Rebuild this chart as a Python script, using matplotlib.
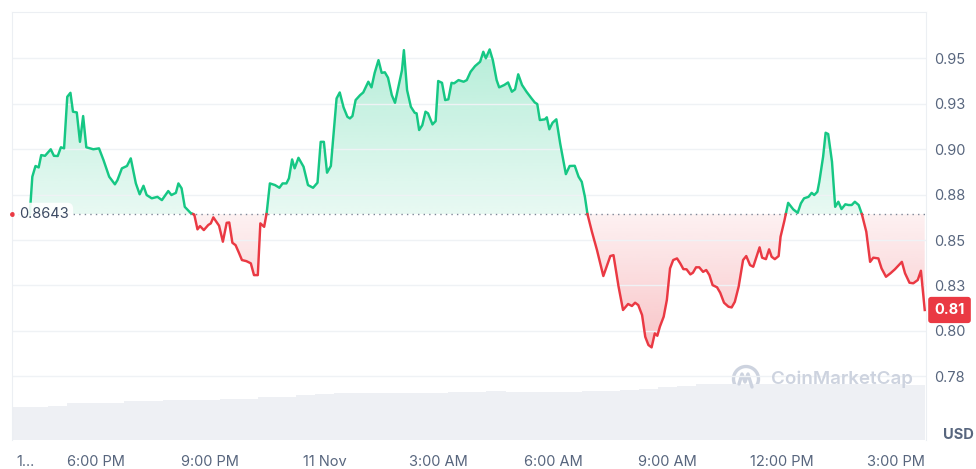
import numpy as np
import matplotlib
matplotlib.use("Agg")
import matplotlib.pyplot as plt
from matplotlib.path import Path
from matplotlib.patches import Circle
from matplotlib.lines import Line2D

plt.rcParams['font.family'] = ['Inter', 'DejaVu Sans']

# price, minutes after 10 Nov 6:00 PM
minutes = [-104, -100, -95, -90, -86, -80, -71, -66, -60, -55,
           -50, -45, -40, -36, -30, -25, -20, -15, -4, 5,
           12, 21, 30, 34, 41, 49, 55, 63, 69, 75,
           80, 88, 97, 104, 114, 119, 126, 130, 135, 140,
           149, 155, 160, 164, 170, 177, 181, 185, 194, 200,
           206, 210, 215, 220, 225, 230, 237, 244, 249, 255,
           259, 265, 269, 274, 282, 289, 294, 300, 304, 309,
           313, 319, 327, 334, 342, 349, 354, 359, 364, 370,
           379, 384, 390, 396, 400, 404, 409, 416, 421, 429,
           434, 439, 445, 450, 455, 460, 466, 471, 477, 482,
           485, 490, 496, 502, 505, 509, 514, 519, 523, 530,
           535, 539, 545, 550, 555, 560, 564, 571, 579, 584,
           590, 597, 605, 610, 614, 620, 625, 631, 635, 643,
           649, 655, 660, 665, 671, 678, 686, 691, 695, 699,
           707, 710, 714, 719, 725, 731, 740, 746, 754, 760,
           765, 770, 774, 781, 789, 799, 810, 815, 823, 830,
           838, 844, 849, 854, 860, 865, 870, 875, 880, 884,
           888, 894, 899, 904, 909, 915, 920, 925, 930, 936,
           940, 945, 950, 956, 961, 966, 971, 978, 983, 989,
           996, 1001, 1006, 1012, 1019, 1024, 1030, 1035, 1041, 1045,
           1049, 1055, 1060, 1064, 1069, 1075, 1078, 1084, 1090, 1098,
           1105, 1110, 1115, 1122, 1127, 1131, 1136, 1139, 1145, 1149,
           1153, 1159, 1164, 1169, 1174, 1180, 1185, 1190, 1195, 1201,
           1206, 1213, 1219, 1224, 1232, 1237, 1244, 1251, 1258, 1269,
           1274, 1281, 1287, 1294, 1299, 1305]
price = [0.8643, 0.8849, 0.8908, 0.8900, 0.8968, 0.8964, 0.9000, 0.8964, 0.8963, 0.9011,
         0.9005, 0.9289, 0.9311, 0.9207, 0.9203, 0.9041, 0.9183, 0.9011, 0.9000, 0.9005,
         0.8941, 0.8849, 0.8807, 0.8830, 0.8895, 0.8908, 0.8950, 0.8812, 0.8752, 0.8799,
         0.8748, 0.8730, 0.8738, 0.8720, 0.8770, 0.8748, 0.8760, 0.8812, 0.8785, 0.8683,
         0.8650, 0.8640, 0.8559, 0.8577, 0.8555, 0.8583, 0.8592, 0.8625, 0.8579, 0.8491,
         0.8595, 0.8597, 0.8485, 0.8472, 0.8432, 0.8390, 0.8384, 0.8372, 0.8307, 0.8307,
         0.8592, 0.8573, 0.8650, 0.8812, 0.8803, 0.8788, 0.8812, 0.8812, 0.8840, 0.8944,
         0.8895, 0.8953, 0.8904, 0.8803, 0.8788, 0.8816, 0.9041, 0.9041, 0.8871, 0.8908,
         0.9280, 0.9313, 0.9231, 0.9179, 0.9170, 0.9183, 0.9271, 0.9298, 0.9313, 0.9372,
         0.9341, 0.9421, 0.9491, 0.9421, 0.9424, 0.9394, 0.9298, 0.9256, 0.9354, 0.9436,
         0.9546, 0.9326, 0.9234, 0.9201, 0.9198, 0.9106, 0.9133, 0.9207, 0.9198, 0.9137,
         0.9155, 0.9376, 0.9366, 0.9271, 0.9275, 0.9366, 0.9363, 0.9381, 0.9372, 0.9381,
         0.9427, 0.9458, 0.9482, 0.9537, 0.9501, 0.9550, 0.9491, 0.9381, 0.9341, 0.9354,
         0.9368, 0.9317, 0.9330, 0.9413, 0.9354, 0.9317, 0.9280, 0.9258, 0.9249, 0.9161,
         0.9165, 0.9176, 0.9110, 0.9146, 0.9165, 0.9033, 0.8863, 0.8908, 0.8909, 0.8849,
         0.8821, 0.8738, 0.8643, 0.8546, 0.8445, 0.8302, 0.8412, 0.8417, 0.8243, 0.8115,
         0.8148, 0.8137, 0.8155, 0.8142, 0.8087, 0.7967, 0.7922, 0.7909, 0.7986, 0.7973,
         0.8023, 0.8078, 0.8170, 0.8344, 0.8390, 0.8399, 0.8372, 0.8340, 0.8339, 0.8311,
         0.8320, 0.8350, 0.8350, 0.8325, 0.8335, 0.8307, 0.8252, 0.8240, 0.8210, 0.8155,
         0.8133, 0.8129, 0.8160, 0.8243, 0.8390, 0.8412, 0.8362, 0.8353, 0.8417, 0.8460,
         0.8403, 0.8395, 0.8449, 0.8408, 0.8395, 0.8412, 0.8518, 0.8606, 0.8705, 0.8669,
         0.8650, 0.8702, 0.8730, 0.8738, 0.8760, 0.8748, 0.8766, 0.8821, 0.8959, 0.9091,
         0.9084, 0.8931, 0.8683, 0.8711, 0.8671, 0.8697, 0.8693, 0.8693, 0.8711, 0.8693,
         0.8643, 0.8546, 0.8380, 0.8403, 0.8399, 0.8344, 0.8298, 0.8317, 0.8339, 0.8380,
         0.8317, 0.8265, 0.8262, 0.8280, 0.8331, 0.8115]
open_price = 0.8643
open_label = "0.8643"
last_label = "0.81"

# volume (relative), one bar per 30 min
vol_minutes = list(range(-120, 1291, 30))
volume = [33.3, 33.3, 34.3, 37.3, 37.3, 37.3, 38.7, 38.7, 40, 40,
          40, 41, 41, 43.3, 43.3, 44.7, 46, 47.3, 47.3, 47,
          47, 47, 47, 48.3, 48.3, 49, 48.3, 48.3, 48.3, 47.7,
          48.7, 48.7, 50, 50.7, 52.7, 54.3, 55.7, 55.7, 56, 56,
          56, 56, 56, 56, 56, 56, 56, 55]

xtick_pos = [-110, 0, 180, 360, 540, 720, 900, 1080, 1260]
xtick_labels = ["1...", "6:00 PM", "9:00 PM", "11 Nov", "3:00 AM",
                "6:00 AM", "9:00 AM", "12:00 PM", "3:00 PM"]
ytick_pos = [0.775, 0.8, 0.825, 0.85, 0.875, 0.9, 0.925, 0.95]
ytick_labels = ["0.78", "0.80", "0.83", "0.85", "0.88", "0.90", "0.93", "0.95"]

GREEN = '#16c784'
RED = '#ea3943'
GREY = '#58667e'
xmin, xmax = -132, 1307
ymin, ymax = 0.7399, 0.9756

fig = plt.figure(figsize=(9.76, 4.69), dpi=100)
ax = fig.add_axes([12/976, 29/469, 914/976, 428/469])
ax2 = ax.twinx()
ax.set_zorder(2)
ax2.set_zorder(1)
ax.patch.set_visible(False)
ax2.patch.set_visible(False)

ax2.bar(vol_minutes, volume, width=30, color='#eef0f4', linewidth=0)
ax2.set_ylim(0, 428)
ax2.axis('off')

# insert baseline crossings so colours switch exactly on the line
xs, ys = [minutes[0]], [price[0]]
for i in range(1, len(price)):
    x0, y0, x1, y1 = minutes[i-1], price[i-1], minutes[i], price[i]
    if (y0 - open_price) * (y1 - open_price) < 0:
        xs.append(x0 + (open_price - y0) * (x1 - x0) / (y1 - y0))
        ys.append(open_price)
    xs.append(x1)
    ys.append(y1)
xs = np.array(xs)
ys = np.array(ys)

def grad_fill(top_y, color, a_lo, a_hi, y0, y1):
    verts = np.concatenate([np.column_stack([xs, top_y]),
                            [[xs[-1], open_price], [xs[0], open_price]]])
    clip = Path(verts, closed=True)
    rgb = matplotlib.colors.to_rgb(color)
    img = np.zeros((256, 1, 4))
    img[..., :3] = rgb
    img[:, 0, 3] = np.linspace(a_lo, a_hi, 256)
    im = ax.imshow(img, extent=[xmin, xmax, y0, y1], origin='lower',
                   aspect='auto', interpolation='bilinear', zorder=1)
    im.set_clip_path(clip, transform=ax.transData)

grad_fill(np.maximum(ys, open_price), GREEN, 0.10, 0.32, open_price, 0.96)
grad_fill(np.minimum(ys, open_price), RED, 0.30, 0.07, 0.79, open_price)

up = np.where(ys >= open_price, ys, np.nan)
down = np.where(ys <= open_price, ys, np.nan)
ax.plot(xs, up, color=GREEN, lw=1.75, zorder=4, solid_joinstyle='round')
ax.plot(xs, down, color=RED, lw=1.75, zorder=4, solid_joinstyle='round')

ax.axhline(open_price, color='#7d8697', lw=1, ls=(0, (1, 3)), zorder=3)
ax.plot([xmin], [open_price], 'o', ms=2.5, color=RED, zorder=5, clip_on=False)
ax.text(-121, open_price, open_label, ha='left', va='center', fontsize=10.5,
        color='#3d4b63', zorder=6,
        bbox=dict(boxstyle='round,pad=0.3,rounding_size=0.4', fc='white', ec='none', alpha=0.9))

ax.set_xlim(xmin, xmax)
ax.set_ylim(ymin, ymax)
ax.set_xticks(xtick_pos)
ax.set_xticklabels(xtick_labels)
ax.set_yticks(ytick_pos)
ax.set_yticklabels(ytick_labels)
ax.yaxis.tick_right()
ax.tick_params(axis='y', length=0, pad=6, labelsize=10.5, labelcolor=GREY)
ax.tick_params(axis='x', length=0, pad=11, labelsize=10.5, labelcolor=GREY)
ax.grid(axis='y', color='#eff2f5', lw=1)
for side in ['left', 'right', 'top']:
    ax.spines[side].set_color('#eceff3')
ax.spines['bottom'].set_visible(False)

ax.annotate(last_label, xy=(1, price[-1]), xycoords=('axes fraction', 'data'),
            xytext=(6, 0), textcoords='offset points', ha='left', va='center',
            fontsize=10.5, fontweight='bold', color='white', zorder=10,
            annotation_clip=False,
            bbox=dict(boxstyle='round,pad=0.42,rounding_size=0.2', fc=RED, ec='none'))

fig.text(958/976, 1 - 435/469, 'USD', ha='center', va='center',
         fontsize=10.5, fontweight='bold', color=GREY)

# watermark
wm = '#cdd3df'
fig.add_artist(Circle((7.46, 0.90), 0.125, transform=fig.dpi_scale_trans,
                      fill=False, ec=wm, lw=2.4))
fig.add_artist(Line2D([7.39, 7.42, 7.45, 7.48, 7.52], [0.85, 0.95, 0.87, 0.95, 0.82],
                      transform=fig.dpi_scale_trans, color=wm, lw=2.4,
                      solid_joinstyle='round', solid_capstyle='round'))
fig.text(771/976, 1 - 379/469, 'CoinMarketCap', ha='left', va='center',
         fontsize=13.5, fontweight='semibold', color=wm)

fig.savefig('out.png', dpi=100)
